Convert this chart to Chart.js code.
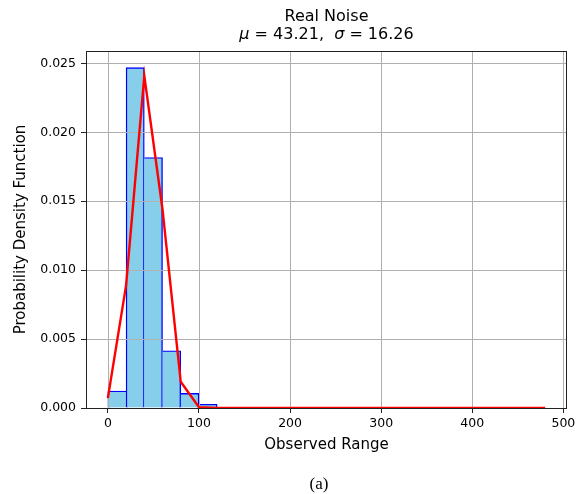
<!DOCTYPE html>
<html>
<head>
<meta charset="utf-8">
<script src="https://cdn.jsdelivr.net/npm/chart.js@4.4.0/dist/chart.umd.min.js"></script>
<style>
  html, body { margin:0; padding:0; background:#fff; }
  #wrap { position:relative; width:583px; height:494px; }
  #caption { position:absolute; left:269px; width:100px; top:475px; text-align:center;
             font-family:'Liberation Serif', serif; font-size:17px; line-height:17px; color:#000; }
</style>
</head>
<body>
<div id="wrap">
  <canvas id="chart" width="583" height="494"></canvas>
  <div id="caption">(a)</div>
</div>
<script>
// Histogram bins (centres, width 20) and density
const binCenters = [10,30,50,70,90,110,130,150,170,190,210,230,250,270,290,310,330,350,370,390,410,430,450,470];
const density    = [0.00123,0.02469,0.01817,0.00415,0.00106,0.00027,0.00004,0,0,0,0,0,0,0,0,0,0,0,0,0,0,0,0,0];

// Fitted curve, sampled at the bin edges
const edgeX   = [0,20,40,60,80,100,120,140,160,180,200,220,240,260,280,300,320,340,360,380,400,420,440,460,480];
const fitPdf  = [0.00072,0.0089,0.0241,0.0144,0.0019,0.00006,0,0,0,0,0,0,0,0,0,0,0,0,0,0,0,0,0,0,0];

const titleLine1 = 'Real Noise';
const titleLine2 = [['μ', true], [' = 43.21,  ', false], ['σ', true], [' = 16.26', false]];
const xLabel = 'Observed Range';
const yLabel = 'Probability Density Function';

const FONT = "'DejaVu Sans', sans-serif";

// per-side borders so shared bin edges are drawn once, by the taller bar
function barBorder(ctx) {
  const i = ctx.dataIndex;
  const h = density[i];
  if (!h) return 0;
  const prev = i > 0 ? density[i-1] : 0;
  const next = i < density.length-1 ? density[i+1] : 0;
  const w = 1.4;
  return { top:w, bottom:0, left: prev < h ? w : 0, right: next < h ? w : 0 };
}

// title with italic greek letters
const titlePlugin = {
  id: 'mathTitle',
  afterDraw(chart) {
    const {ctx, chartArea} = chart;
    const cx = (chartArea.left + chartArea.right) / 2;
    ctx.save();
    ctx.fillStyle = '#000';
    ctx.textBaseline = 'alphabetic';
    ctx.font = '16px ' + FONT;
    ctx.textAlign = 'center';
    ctx.fillText(titleLine1, cx, 21);
    ctx.textAlign = 'left';
    let total = 0;
    const widths = titleLine2.map(([t, it]) => {
      ctx.font = (it ? 'italic ' : '') + '16px ' + FONT;
      const w = ctx.measureText(t).width; total += w; return w;
    });
    let x = cx - total / 2;
    titleLine2.forEach(([t, it], k) => {
      ctx.font = (it ? 'italic ' : '') + '16px ' + FONT;
      ctx.fillText(t, x, 39);
      x += widths[k];
    });
    ctx.restore();
  }
};

// grid over the bars but under the line, plus the full axes frame
const gridPlugin = {
  id: 'gridOver',
  beforeDatasetDraw(chart, args) {
    if (args.index !== 1) return;
    const {ctx, chartArea: a, scales} = chart;
    ctx.save();
    ctx.strokeStyle = '#b0b0b0';
    ctx.lineWidth = 1;
    ctx.beginPath();
    scales.x.ticks.forEach(t => {
      const p = Math.round(scales.x.getPixelForValue(t.value)) + 0.5;
      ctx.moveTo(p, a.top); ctx.lineTo(p, a.bottom);
    });
    scales.y.ticks.forEach(t => {
      const p = Math.round(scales.y.getPixelForValue(t.value)) + 0.5;
      ctx.moveTo(a.left, p); ctx.lineTo(a.right, p);
    });
    ctx.stroke();
    ctx.restore();
  },
  afterDraw(chart) {
    const {ctx, chartArea: a} = chart;
    ctx.save();
    ctx.strokeStyle = '#222';
    ctx.lineWidth = 1;
    ctx.strokeRect(Math.round(a.left) + 0.5, Math.round(a.top) + 0.5,
                   Math.round(a.right - a.left) - 1, Math.round(a.bottom - a.top));
    ctx.restore();
  }
};

new Chart(document.getElementById('chart'), {
  type: 'bar',
  data: {
    datasets: [
      {
        type: 'bar',
        data: binCenters.map((x, i) => ({x, y: density[i]})),
        backgroundColor: '#87ceeb',
        borderColor: '#0000ff',
        borderWidth: barBorder,
        borderSkipped: false,
        barPercentage: 1,
        categoryPercentage: 1,
        order: 1
      },
      {
        type: 'line',
        data: edgeX.map((x, i) => ({x, y: fitPdf[i]})),
        borderColor: '#ff0000',
        borderWidth: 2.4,
        pointRadius: 0,
        tension: 0,
        fill: false,
        order: 0
      }
    ]
  },
  plugins: [gridPlugin, titlePlugin],
  options: {
    responsive: false,
    devicePixelRatio: 1,
    animation: false,
    layout: { padding: { top: 51, right: 16, left: 0, bottom: 0 } },
    plugins: { legend: { display: false }, tooltip: { enabled: false }, title: { display: false } },
    scales: {
      x: {
        type: 'linear',
        min: -24, max: 504,
        offset: false,
        border: { display: false },
        grid: { offset: false, drawOnChartArea: false, drawTicks: true, tickLength: 5, tickColor: '#222', tickWidth: 1 },
        ticks: { stepSize: 100, includeBounds: false, maxRotation: 0, color: '#000', padding: 3,
                 font: { family: FONT, size: 12.5 } },
        title: { display: true, text: xLabel, color: '#000', font: { family: FONT, size: 15 },
                 padding: { top: 0, bottom: 40 } },
        afterFit(s) { s.height = 86; s.paddingLeft = 0; s.paddingRight = 0; }
      },
      y: {
        min: 0, max: 0.0259,
        border: { display: false },
        grid: { drawOnChartArea: false, drawTicks: true, tickLength: 5, tickColor: '#222', tickWidth: 1 },
        ticks: { stepSize: 0.005, includeBounds: false, color: '#000', padding: 5,
                 font: { family: FONT, size: 12.5 }, callback: v => v.toFixed(3) },
        title: { display: true, text: yLabel, color: '#000', font: { family: FONT, size: 15 },
                 padding: { top: 12, bottom: 0 } },
        afterFit(s) { s.width = 86; s.paddingTop = 0; s.paddingBottom = 0; }
      }
    }
  }
});
</script>
</body>
</html>
